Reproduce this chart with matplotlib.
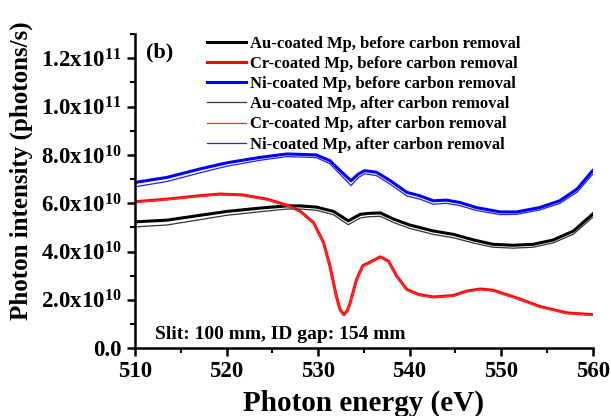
import matplotlib
matplotlib.use("Agg")
from matplotlib import pyplot as plt
from matplotlib.ticker import MultipleLocator, FuncFormatter

plt.rcParams['font.family'] = 'Liberation Serif'
plt.rcParams['font.weight'] = 'bold'
plt.rcParams['mathtext.fontset'] = 'custom'
plt.rcParams['mathtext.rm'] = 'Liberation Serif:bold'
plt.rcParams['mathtext.it'] = 'Liberation Serif:bold'
plt.rcParams['mathtext.bf'] = 'Liberation Serif:bold'

# Photon intensity in units of 1e9 photons/s
e_ni = [510, 513.5, 517.1, 520, 523.7, 526.6, 529.8, 531.3, 532.4, 533.6, 534.4, 535.1,
        536.4, 537.9, 539.7, 541.1, 542.6, 544, 545.5, 547.3, 549.9, 551.7, 554.2,
        556.4, 558.3, 560]
ni_before = [68.6, 70.7, 74.2, 76.7, 79.0, 80.4, 80.0, 77.6, 73.5, 69.3, 72.1, 73.5,
             72.8, 69.3, 64.5, 63.1, 61.0, 61.3, 60.3, 58.2, 56.4, 56.4, 58.2,
             61.0, 65.9, 73.5]
ni_after = [66.8, 69.0, 72.6, 75.3, 77.8, 79.3, 78.9, 76.3, 72.0, 67.3, 70.6, 72.2,
            71.4, 67.8, 63.0, 61.7, 59.6, 60.0, 59.0, 57.0, 55.3, 55.4, 57.2,
            59.9, 64.6, 72.0]

e_au = [510, 513.5, 517.1, 520, 523.7, 526.6, 528, 529.8, 531.7, 533.3, 534.6, 535.5,
        536.8, 538.2, 540, 542.6, 544.8, 547, 549.1, 551.3, 553.5, 555.7, 557.9, 560]
au_before = [52.3, 53.0, 55.0, 56.6, 58.0, 58.9, 58.9, 58.4, 56.6, 52.7, 55.4, 55.8,
             56.0, 53.5, 51.0, 48.5, 47.1, 44.8, 43.0, 42.6, 43.0, 44.8, 48.5, 55.5]
au_after = [50.2, 51.0, 53.2, 55.0, 56.5, 57.6, 57.6, 57.1, 55.2, 51.1, 53.9, 54.4,
            54.6, 52.1, 49.6, 47.1, 45.7, 43.5, 41.8, 41.4, 41.8, 43.6, 47.2, 54.2]

e_cr = [510, 513.5, 517.1, 519.3, 521.8, 524.4, 526.6, 528, 529.5, 530.6, 531.3, 532.0,
        532.4, 532.8, 533.2, 533.5, 534.2, 534.9, 535.7, 536.8, 537.7, 538.6, 539.7,
        541.0, 542.6, 544.8, 546.2, 547.7, 549.1, 551.7, 554.2, 557.2, 560]
cr_before = [60.6, 61.7, 63.1, 63.8, 63.4, 61.7, 59.2, 56.8, 52.0, 43.7, 33.9, 21.5,
             16.0, 13.9, 15.5, 18.7, 28.4, 34.2, 35.6, 37.8, 36.0, 29.8, 24.3,
             22.2, 21.2, 21.8, 23.6, 24.5, 24.0, 20.8, 17.3, 14.6, 13.9]
cr_after = [60.4, 61.5, 62.9, 63.6, 63.2, 61.5, 59.0, 56.6, 51.8, 43.5, 33.7, 21.3,
            15.8, 13.7, 15.3, 18.5, 28.2, 34.0, 35.4, 37.6, 35.8, 29.6, 24.1,
            22.0, 21.0, 21.6, 23.4, 24.3, 23.8, 20.6, 17.1, 14.4, 13.7]

fig = plt.figure(figsize=(6.11, 4.16), dpi=100)
ax = fig.add_axes([0.221, 0.163, 0.749, 0.755])

sc = 1e9
ax.plot(e_au, [v * sc for v in au_before], color='black', lw=2.2, label='Au-coated Mp, before carbon removal')
ax.plot(e_cr, [v * sc for v in cr_before], color='#ff0000', lw=2.2, label='Cr-coated Mp, before carbon removal')
ax.plot(e_ni, [v * sc for v in ni_before], color='#0000ff', lw=2.2, label='Ni-coated Mp, before carbon removal')
ax.plot(e_au, [v * sc for v in au_after], color='#333333', lw=0.9, label='Au-coated Mp, after carbon removal')
ax.plot(e_cr, [v * sc for v in cr_after], color='#ff3030', lw=0.9, label='Cr-coated Mp, after carbon removal')
ax.plot(e_ni, [v * sc for v in ni_after], color='#2020ff', lw=0.9, label='Ni-coated Mp, after carbon removal')

ax.set_xlim(510, 560)
ax.set_ylim(0, 1.3e11)
ax.xaxis.set_major_locator(MultipleLocator(10))
ax.xaxis.set_minor_locator(MultipleLocator(5))
ax.yaxis.set_major_locator(MultipleLocator(2e10))
ax.yaxis.set_minor_locator(MultipleLocator(1e10))


def yfmt(v, pos):
    if v == 0:
        return '0.0'
    exp = 11 if v >= 1e11 else 10
    return r'%.1fx10$^{%d}$' % (v / 10 ** exp, exp)


ax.yaxis.set_major_formatter(FuncFormatter(yfmt))

for s in ['top', 'right']:
    ax.spines[s].set_visible(False)
for s in ['left', 'bottom']:
    ax.spines[s].set_linewidth(1.8)
ax.tick_params(which='major', direction='out', length=6, width=1.8, labelsize=16.5)
ax.tick_params(which='minor', direction='out', length=3.5, width=1.5)

ax.set_xlabel('Photon energy (eV)', fontsize=21, fontweight='bold', labelpad=5)
ax.set_ylabel('Photon intensity (photons/s)', fontsize=18, fontweight='bold')
ax.yaxis.set_label_coords(-0.222, 0.565)

ax.text(0.025, 0.925, '(b)', transform=ax.transAxes, fontsize=16, fontweight='bold')
ax.text(0.043, 0.03, 'Slit: 100 mm, ID gap: 154 mm', transform=ax.transAxes, fontsize=14, fontweight='bold')

ax.legend(loc='upper left', bbox_to_anchor=(0.158, 0.995), frameon=False, fontsize=12,
          handlelength=2.3, handletextpad=0.25, labelspacing=0.25, borderpad=0, borderaxespad=0)

fig.savefig('out.png', dpi=100)
